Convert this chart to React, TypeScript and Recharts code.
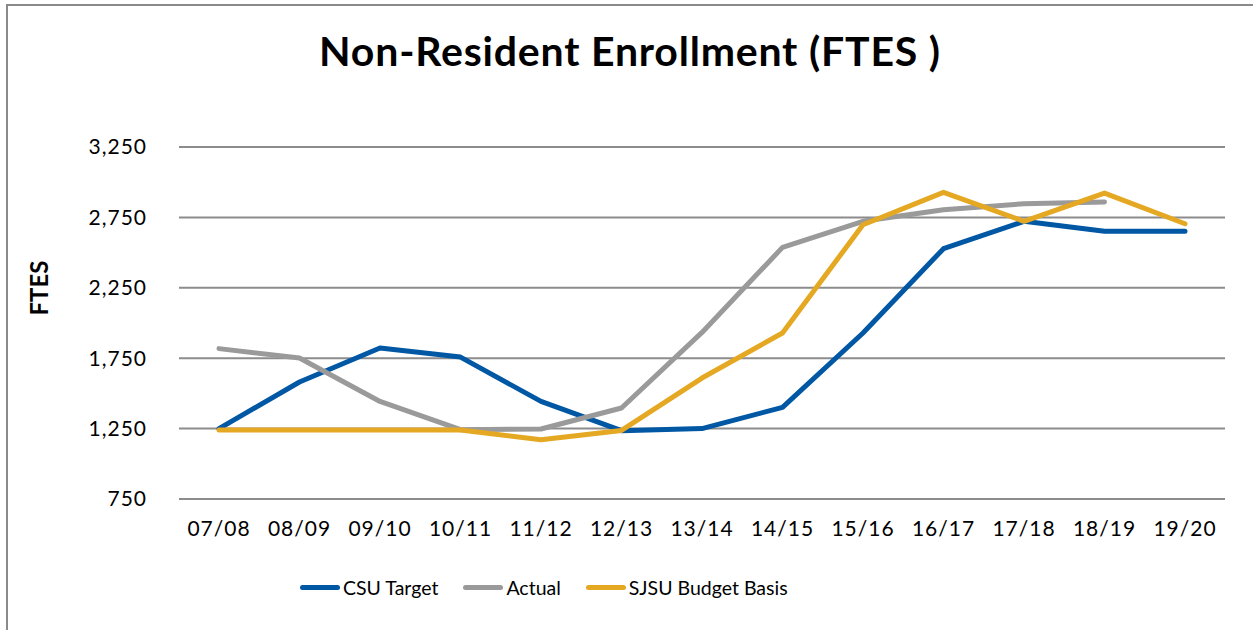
import { CartesianGrid, Line, LineChart, XAxis, YAxis } from "recharts";

const years = ["07/08", "08/09", "09/10", "10/11", "11/12", "12/13", "13/14", "14/15", "15/16", "16/17", "17/18", "18/19", "19/20"];
const csuTarget = [1250, 1581, 1822, 1758, 1443, 1235, 1250, 1401, 1929, 2528, 2722, 2651, 2651];
const actual: (number | null)[] = [1818, 1751, 1443, 1242, 1247, 1396, 1933, 2537, 2722, 2805, 2847, 2859, null];
const budgetBasis = [1240, 1240, 1240, 1240, 1171, 1237, 1609, 1929, 2698, 2928, 2722, 2923, 2705];
const yTicks = [750, 1250, 1750, 2250, 2750, 3250];

const series = [
  { key: "csu", name: "CSU Target", color: "#0057A4" },
  { key: "actual", name: "Actual", color: "#9A9A9A" },
  { key: "sjsu", name: "SJSU Budget Basis", color: "#E5A823" },
];

const data = years.map((year, i) => ({
  year,
  csu: csuTarget[i],
  actual: actual[i],
  sjsu: budgetBasis[i],
}));

const FONT = "Lato, 'Open Sans', sans-serif";

export default function App() {
  return (
    <div
      style={{
        position: "absolute",
        left: 0,
        top: 0,
        width: 1253,
        height: 630,
        background: "#fff",
        fontFamily: FONT,
        color: "#000",
      }}
    >
      {/* chart frame, only left/top edges fall inside the picture */}
      <div
        style={{
          position: "absolute",
          left: 6,
          top: 4,
          width: 1260,
          height: 640,
          borderLeft: "2px solid #8a8a8a",
          borderTop: "2px solid #8a8a8a",
        }}
      />
      <div
        style={{
          position: "absolute",
          left: 0,
          width: 1260,
          top: 26,
          textAlign: "center",
          fontSize: 41,
          fontWeight: 700,
          letterSpacing: 0.8,
        }}
      >
        Non-Resident Enrollment (FTES )
      </div>
      <div
        style={{
          position: "absolute",
          left: 38,
          top: 288,
          transform: "translate(-50%, -50%) rotate(-90deg)",
          fontSize: 24,
          fontWeight: 700,
          whiteSpace: "nowrap",
        }}
      >
        FTES
      </div>

      <div style={{ position: "absolute", left: 0, top: 0 }}>
        <LineChart
          width={1253}
          height={630}
          data={data}
          margin={{ top: 147, right: 28, bottom: 71, left: 0 }}
        >
          <CartesianGrid horizontal vertical={false} stroke="#8c8c8c" strokeWidth={2} />
          <XAxis
            dataKey="year"
            axisLine={false}
            tickLine={false}
            tickSize={0}
            tickMargin={22}
            height={60}
            interval={0}
            padding={{ left: 40, right: 40 }}
            tick={{ fill: "#000", fontSize: 21, fontFamily: FONT, letterSpacing: 1 }}
          />
          <YAxis
            domain={[750, 3250]}
            ticks={yTicks}
            width={179}
            axisLine={false}
            tickLine={false}
            tickSize={0}
            tickMargin={32}
            tickFormatter={(v) => Number(v).toLocaleString("en-US")}
            tick={{ fill: "#000", fontSize: 21, fontFamily: FONT, letterSpacing: 1 }}
          />
          {series.map((s) => (
            <Line
              key={s.key}
              type="linear"
              dataKey={s.key}
              name={s.name}
              stroke={s.color}
              strokeWidth={5}
              strokeLinecap="round"
              strokeLinejoin="round"
              dot={false}
              activeDot={false}
              isAnimationActive={false}
            />
          ))}
        </LineChart>
      </div>

      <div
        style={{
          position: "absolute",
          left: 300,
          top: 576,
          display: "flex",
          alignItems: "center",
          gap: 25,
          fontSize: 19.5,
        }}
      >
        {series.map((s) => (
          <div key={s.key} style={{ display: "flex", alignItems: "center" }}>
            <span
              style={{
                display: "inline-block",
                width: 40,
                height: 5,
                borderRadius: 3,
                background: s.color,
                marginRight: 3,
              }}
            />
            <span>{s.name}</span>
          </div>
        ))}
      </div>
    </div>
  );
}
